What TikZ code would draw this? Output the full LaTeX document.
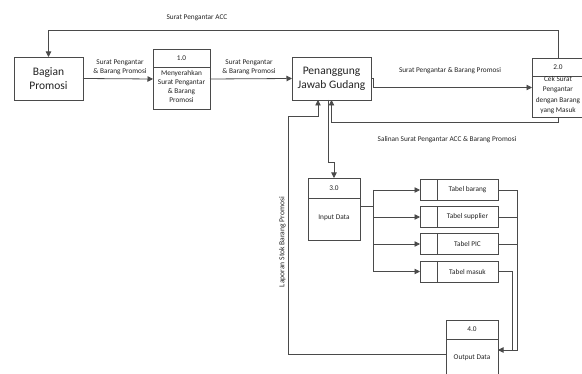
\documentclass[tikz,border=0pt]{standalone}
\usepackage{fontspec}
\setmainfont{Carlito}
\usetikzlibrary{arrows.meta,calc}
\definecolor{lc}{HTML}{4A4A4A}
\definecolor{tc}{HTML}{222222}
\begin{document}
\begin{tikzpicture}[x=1pt,y=-1pt,
  ln/.style={draw=lc,line width=0.8pt},
  arr/.style={ln,-{Triangle[length=5.5pt,width=5.5pt]}},
  ent/.style={draw=lc,line width=0.8pt,inner sep=0pt,outer sep=0pt,align=center,text=tc,font=\fontsize{11.5}{14}\selectfont},
  box/.style={draw=lc,line width=0.8pt,inner sep=0pt,outer sep=0pt},
  txt/.style={inner sep=0pt,outer sep=0pt,align=center,text=tc,font=\fontsize{7.3}{9}\selectfont},
  tbl/.style={box,minimum width=78pt,minimum height=21pt}]
\useasboundingbox (0,0) rectangle (582,374);
% externals
\node[ent,minimum width=69pt,minimum height=43pt] (bp) at (48.5,78.5) {Bagian\\Promosi};
\node[ent,minimum width=79pt,minimum height=43pt] (pjg) at (331.5,78.5) {Penanggung\\Jawab Gudang};
% process 1.0
\node[box,minimum width=57pt,minimum height=60pt] (p1) at (181.5,79) {};
\draw[ln] ($(p1.north west)+(0,18)$) -- ($(p1.north east)+(0,18)$);
\node[txt] (p1h) at (181.5,58.5) {1.0};
\node[txt] (p1b) at (181.5,86) {Menyerahkan\\Surat Pengantar\\\& Barang\\Promosi};
% process 2.0
\node[box,minimum width=52pt,minimum height=59pt] (p2) at (558,87.5) {};
\draw[ln] ($(p2.north west)+(0,18)$) -- ($(p2.north east)+(0,18)$);
\node[txt] (p2h) at (558,67.5) {2.0};
\node[txt,font=\fontsize{7.3}{10.3}\selectfont] (p2b) at (558,95) {Cek Surat\\Pengantar\\dengan Barang\\yang Masuk};
% process 3.0
\node[box,minimum width=52pt,minimum height=62pt] (p3) at (334,209) {};
\draw[ln] ($(p3.north west)+(0,20)$) -- ($(p3.north east)+(0,20)$);
\node[txt] (p3h) at (334,188.5) {3.0};
\node[txt] (p3b) at (334,218) {Input Data};
% process 4.0
\node[box,minimum width=52pt,minimum height=60pt] (p4) at (472,350) {};
\draw[ln] ($(p4.north west)+(0,19)$) -- ($(p4.north east)+(0,19)$);
\node[txt] (p4h) at (472,329.5) {4.0};
\node[txt] (p4b) at (472,358) {Output Data};
% data stores
\foreach \n/\y/\t in {t1/190/Tabel barang,t2/217/Tabel supplier,t3/244/Tabel PIC,t4/271.5/Tabel masuk}{
  \node[tbl] (\n) at (459,\y) {};
  \draw[ln] ($(\n.north west)+(17,0)$) -- ($(\n.south west)+(17,0)$);
  \node[txt] (\n l) at (467.5,\y) {\t};
}
% flows
\draw[arr] (p2.north) -- ++(0,-28) -| (bp.north);
\node[txt] (l0) at (197,17.5) {Surat Pengantar ACC};
\draw[arr] (bp.east) -- (p1.west);
\node[txt] (l1) at (120,67.5) {Surat Pengantar\\\& Barang Promosi};
\draw[arr] (p1.east) -- (pjg.west);
\node[txt] (l2) at (249,67.5) {Surat Pengantar\\\& Barang Promosi};
\draw[arr] (pjg.east) -- ++(2,0) |- (p2.west);
\node[txt] (l3) at (450,70.5) {Surat Pengantar \& Barang Promosi};
\draw[arr] (p2.south) -- ++(0,5) -| (pjg.south);
\node[txt] (l4) at (447,140) {Salinan Surat Pengantar ACC \& Barang Promosi};
\draw[arr] ([xshift=-3.5pt]pjg.south) |- ($(p3.north)+(0,-16)$) -- (p3.north);
\draw[arr] ([yshift=-4pt]p4.west) -- ++(-158,0) |- ($(pjg.south west)+(26,16)$) -- ([xshift=26pt]pjg.south west);
\node[txt,rotate=90,font=\fontsize{7.6}{9}\selectfont] (l5) at (282.5,242) {Laporan Stok Barang Promosi};
% input bus
\coordinate (busL) at (373,0);
\draw[ln] ([yshift=3pt]p3.east) -- ([yshift=3pt]p3.east -| busL);
\draw[ln] (t1.west -| busL) -- (t4.west -| busL);
\foreach \n in {t1,t2,t3,t4}{\draw[arr] (\n.west -| busL) -- (\n.west);}
% output bus
\coordinate (busR) at (517,0);
\foreach \n in {t2,t3}{\draw[ln] (\n.east) -- (\n.east -| busR);}
\draw[arr] (t1.east) -| ($(busR |- p4.east)$) -- (p4.east);
\draw[ln] (t4.east) -- ++(14,0) |- (p4.east);
\end{tikzpicture}
\end{document}
